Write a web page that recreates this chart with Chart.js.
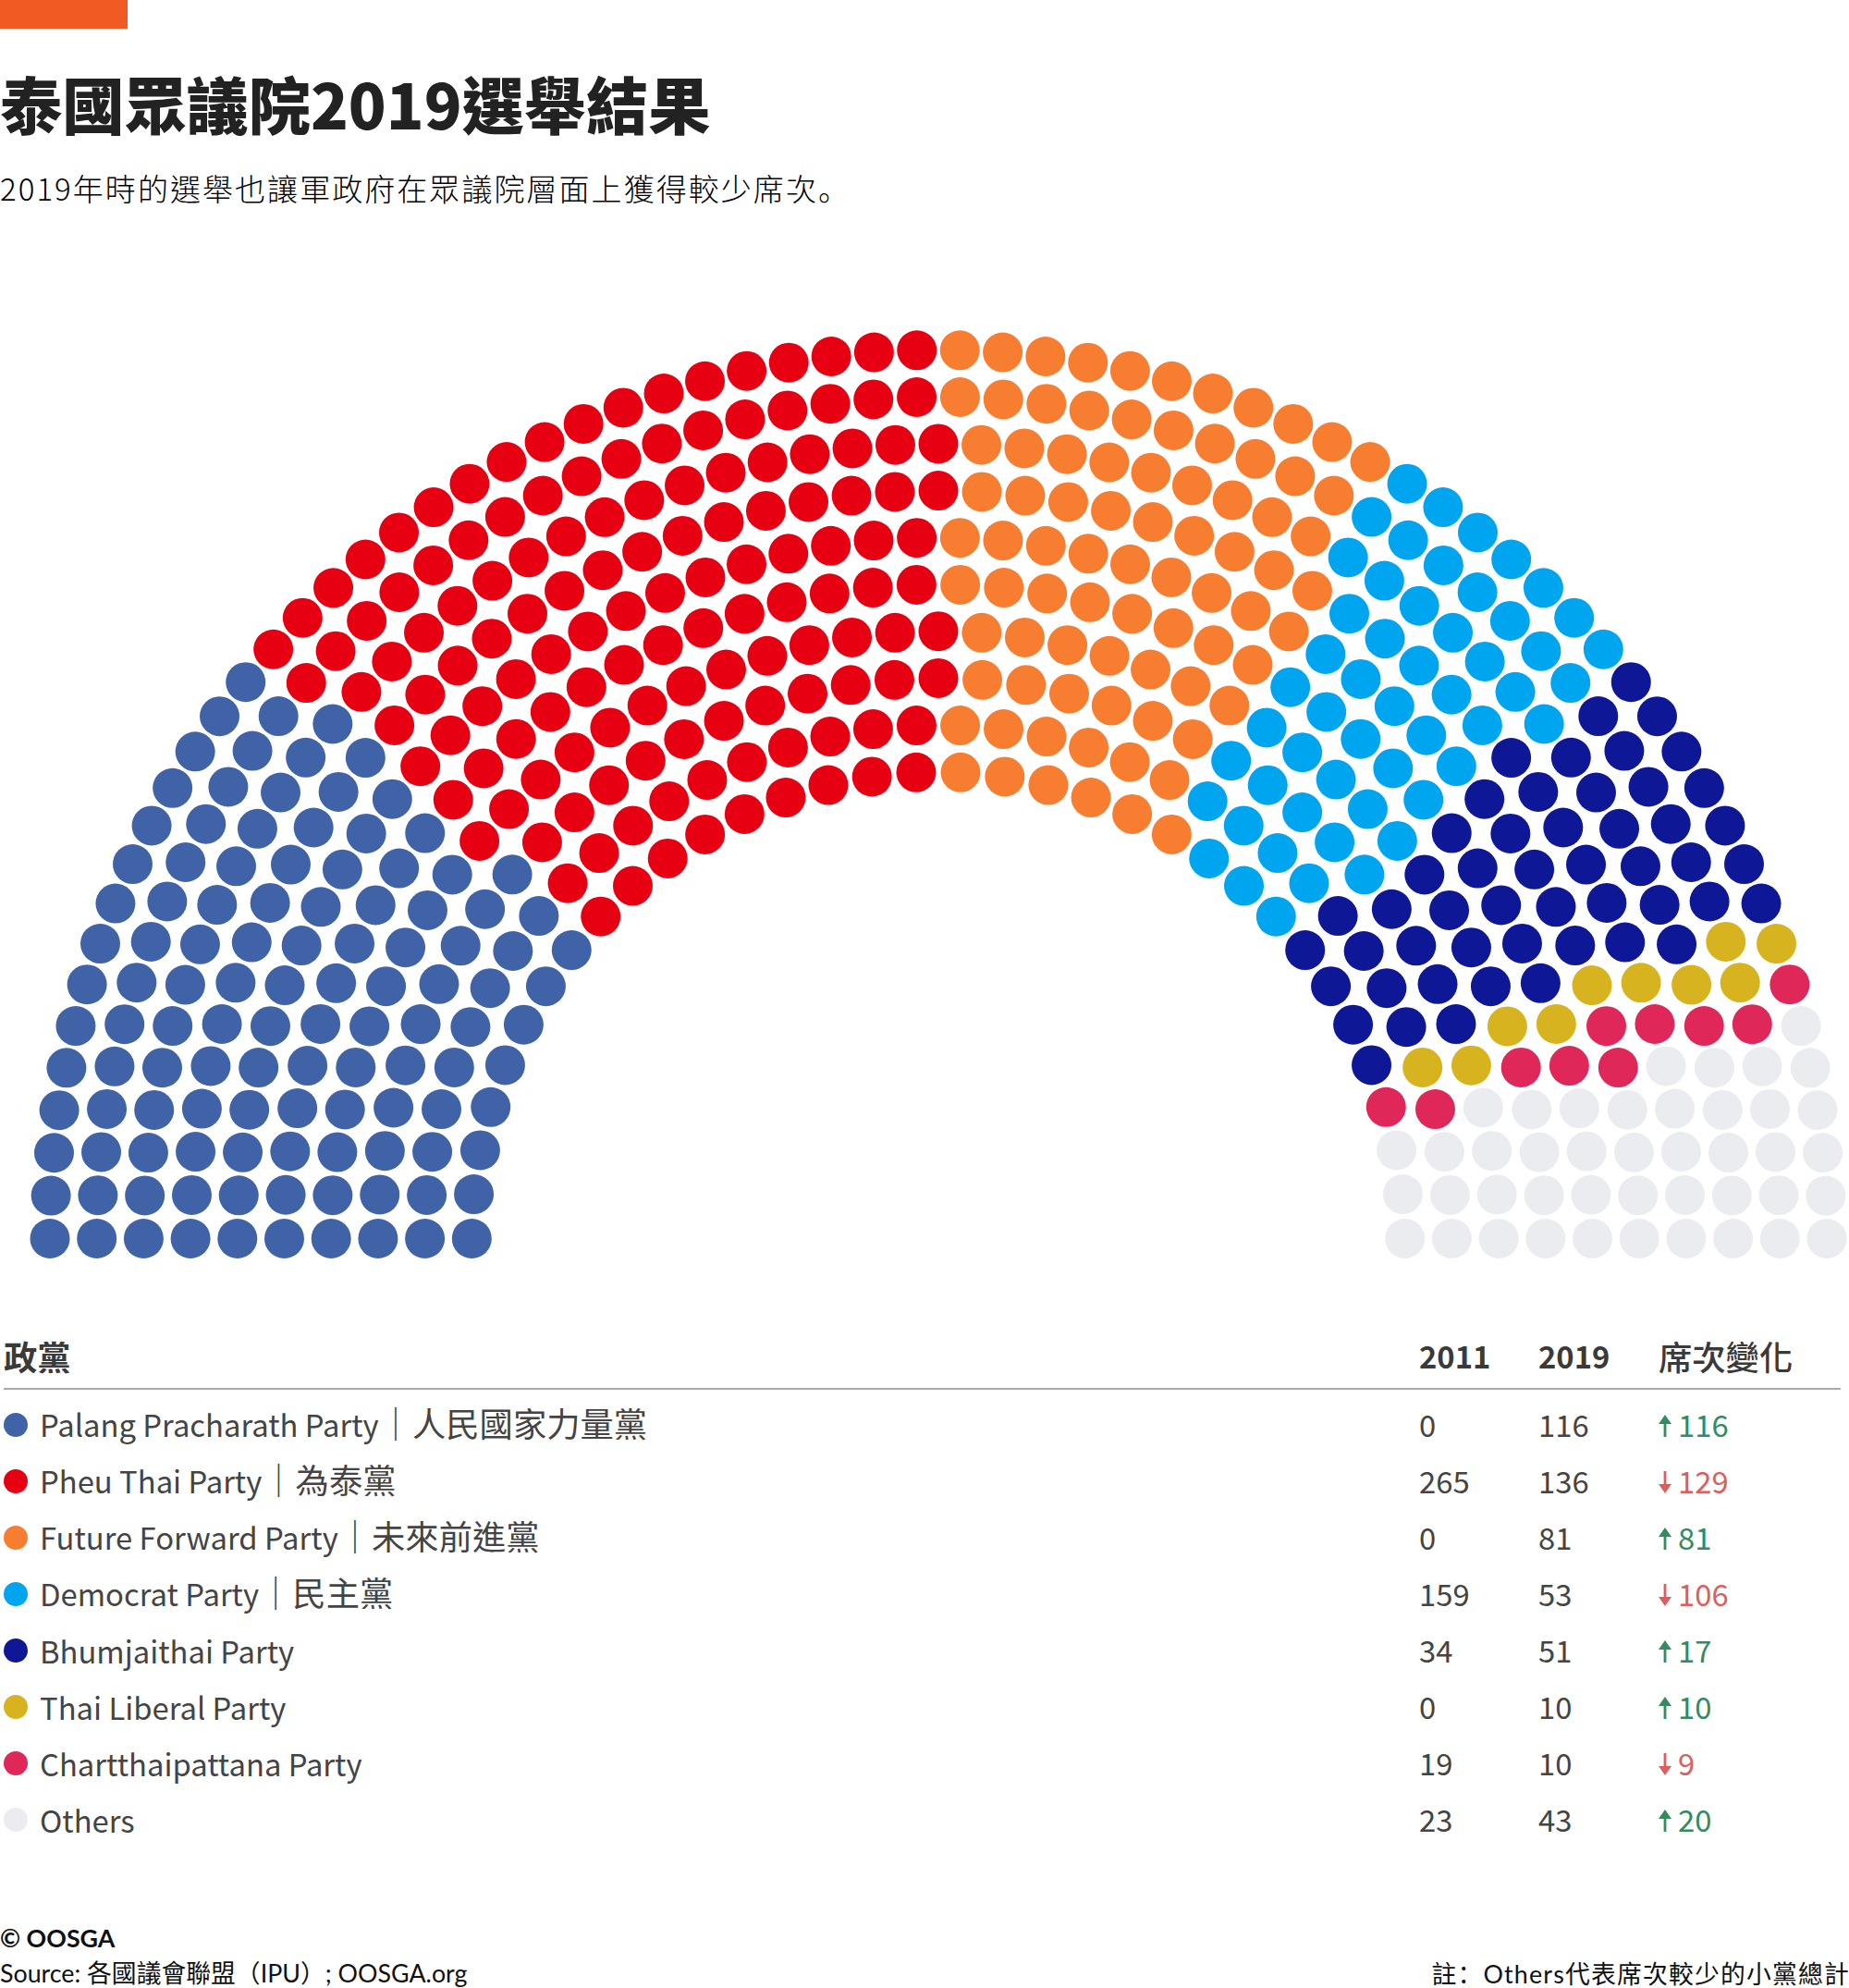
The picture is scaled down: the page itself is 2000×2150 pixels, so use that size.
<!DOCTYPE html>
<html>
<head>
<meta charset="utf-8">
<script src="https://cdn.jsdelivr.net/npm/chart.js@4"></script>
<style>
  html, body { margin: 0; padding: 0; background: #fff; }
  #page { position: relative; width: 2000px; height: 2150px; overflow: hidden; font-family: "Noto Sans CJK TC", sans-serif; }
  #page div, #page svg { position: absolute; white-space: nowrap; }
  #bar { left: 0; top: 0; width: 138px; height: 31px; background: #f15a22; }
  #title { left: 0; top: 77px; line-height: 1; font-size: 67.2px; font-weight: 900; color: #222; letter-spacing: 0; }
  #subtitle { left: 0; top: 183px; line-height: 40px; font-size: 33px; font-weight: 300; color: #000; letter-spacing: 2.05px; }
  .sc { font-family: "Noto Sans CJK SC", sans-serif; }
  #seats { position: absolute; left: 0; top: 300px; }
  #rule { left: 4px; top: 1501px; width: 1987px; height: 2px; background: #aaa; }
  .cell { line-height: 44px; font-size: 32.8px; color: #444; }
  .cell span { font-size: 36.3px; }
  .head { font-weight: 700; color: #3a3a3a; }
  .dot { width: 26px; height: 26px; border-radius: 50%; }
  .foot { font-family: Lato, "Noto Sans CJK TC", sans-serif; font-size: 26.8px; line-height: 36px; color: #111; }
</style>
</head>
<body>
<div id="page">
  <div id="bar"></div>
  <div id="title">泰國眾議院2019選舉結果</div>
  <div id="subtitle">2019年時的選舉也讓軍政府在眾議院層面上獲得較少席次<span class="sc">。</span></div>
  <canvas id="seats" width="2000" height="1100"></canvas>
  <div id="rule"></div>
  <div class="foot" style="left:0;top:2078px;font-weight:700;">© OOSGA</div>
  <div class="foot" style="left:0;top:2116px;">Source: 各國議會聯盟（IPU）; OOSGA.org</div>
  <div class="foot" style="right:-1px;top:2116px;letter-spacing:1.2px;">註<span class="sc">：</span>Others代表席次較少的小黨總計</div>
</div>
<script>
// Table data
const partiesEn = ['Palang Pracharath Party', 'Pheu Thai Party', 'Future Forward Party', 'Democrat Party',
    'Bhumjaithai Party', 'Thai Liberal Party', 'Chartthaipattana Party', 'Others'];
const partiesZh = ['人民國家力量黨', '為泰黨', '未來前進黨', '民主黨', '', '', '', ''];
const seats2011 = [0, 265, 0, 159, 34, 0, 19, 23];
const seats2019 = [116, 136, 81, 53, 51, 10, 10, 43];
const seatChange = [116, -129, 81, -106, 17, 10, -9, 20];
const partyColors = ['#4063a8', '#e60012', '#f77e31', '#00a5f0', '#0e1796', '#d7b41f', '#e0275a', '#ebecf0'];
const tableHeaders = ['政黨', '2011', '2019', '席次變化'];

// Seats in each arc, outer row first
const rowSeats = [66, 62, 59, 55, 52, 48, 45, 41, 38, 34];

// Arc geometry in canvas px
const centerX = 1015;
const baseY = 1039.5;
const outerRadius = 961;
const rowGap = 50.7;
const dotRadius = 21.5;

// Lay out seats row by row, then hand them out to parties sweeping by angle
const seats = [];
rowSeats.forEach((n, row) => {
    const r = outerRadius - row * rowGap;
    for (let j = 0; j < n; j++) {
        const angle = Math.PI * j / (n - 1);
        seats.push({ angle, row, x: -r * Math.cos(angle), y: r * Math.sin(angle) });
    }
});
seats.sort((a, b) => a.angle - b.angle || a.row - b.row);

let next = 0;
const datasets = seats2019.map((count, i) => {
    const points = seats.slice(next, next + count);
    next += count;
    return {
        label: partiesEn[i],
        data: points.map(p => ({ x: p.x, y: p.y })),
        backgroundColor: partyColors[i],
        borderWidth: 0,
        pointRadius: dotRadius,
        pointHoverRadius: dotRadius,
        clip: false
    };
});

new Chart(document.getElementById('seats').getContext('2d'), {
    type: 'scatter',
    data: { datasets },
    options: {
        responsive: false,
        animation: false,
        devicePixelRatio: 1,
        layout: { padding: 0, autoPadding: false },
        plugins: { legend: { display: false }, tooltip: { enabled: false } },
        scales: {
            x: { type: 'linear', display: false, min: -centerX, max: 2000 - centerX },
            y: { type: 'linear', display: false, min: baseY - 1100, max: baseY }
        }
    }
});

// Legend table
const page = document.getElementById('page');
function addCell(text, left, centerY, extraClass, color) {
    const el = document.createElement('div');
    el.className = 'cell ' + (extraClass || '');
    el.textContent = text;
    el.style.left = left + 'px';
    el.style.top = (centerY - 22) + 'px';
    if (color) el.style.color = color;
    page.appendChild(el);
    return el;
}
function addArrow(left, centerY, up, color) {
    const ns = 'http://www.w3.org/2000/svg';
    const svg = document.createElementNS(ns, 'svg');
    svg.setAttribute('width', 14);
    svg.setAttribute('height', 24);
    svg.style.left = left + 'px';
    svg.style.top = (centerY - 12) + 'px';
    const path = document.createElementNS(ns, 'path');
    path.setAttribute('d', up ? 'M7 0L14 10H8.4V24H5.6V10H0Z' : 'M7 24L14 14H8.4V0H5.6V14H0Z');
    path.setAttribute('fill', color);
    svg.appendChild(path);
    page.appendChild(svg);
}

const headerY = 1466;
const colX = [4, 1535, 1664, 1794];
tableHeaders.forEach((h, i) => {
    const cell = addCell(h, colX[i], headerY, 'head');
    if (i === 0 || i === 3) cell.style.fontSize = '36.3px';
    if (i === 3) cell.style.fontWeight = 500;
});

const firstRowY = 1539.5;
const rowStep = 61.1;
partiesEn.forEach((name, i) => {
    const y = firstRowY + i * rowStep;
    const dot = document.createElement('div');
    dot.className = 'dot';
    dot.style.left = '4px';
    dot.style.top = (y - 12) + 'px';
    dot.style.background = partyColors[i];
    page.appendChild(dot);
    const label = addCell(name, 43, partiesZh[i] ? y - 2 : y + 1);
    if (partiesZh[i]) {
        const zh = document.createElement('span');
        zh.textContent = '｜' + partiesZh[i];
        label.appendChild(zh);
    }
    addCell(String(seats2011[i]), colX[1], y);
    addCell(String(seats2019[i]), colX[2], y);
    const change = seatChange[i];
    const color = change > 0 ? '#338c5e' : '#dc5f5f';
    addArrow(1794, y + 2, change > 0, color);
    addCell(String(Math.abs(change)), 1815, y, '', color);
});
</script>
</body>
</html>
